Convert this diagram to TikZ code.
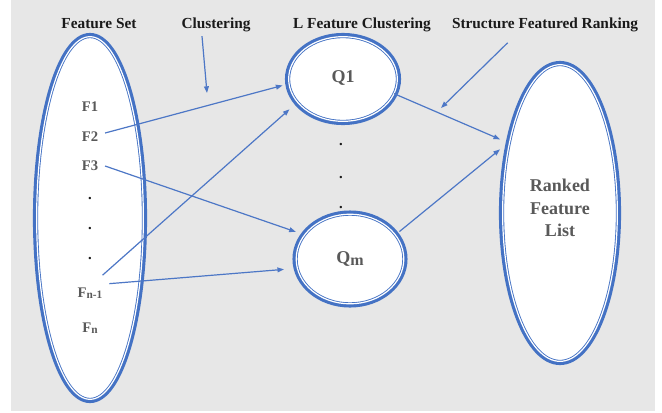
\documentclass[tikz,border=0pt]{standalone}
\usepackage{fontspec}
\setmainfont{Liberation Serif}
\usetikzlibrary{arrows.meta,shapes.geometric}
\definecolor{ringblue}{HTML}{4472C4}
\definecolor{arrowblue}{HTML}{4D77C6}
\definecolor{paper}{HTML}{E7E7E7}
\definecolor{inktext}{HTML}{595959}
\definecolor{headtext}{HTML}{1A1A1A}

\begin{document}
\begin{tikzpicture}[
              x=0.75pt,
              y=-0.75pt,
              >={Triangle[length=5pt,width=3.6pt]},
              ring/.style={ellipse, inner sep=0pt, outer sep=0pt, draw=ringblue, line width=5.6pt,
                postaction={fill=white},
                postaction={draw=ringblue, line width=2.2pt},
                postaction={draw=white, line width=0.9pt},
                text=inktext, font=\fontsize{13.5}{17}\selectfont\bfseries},
              head/.style={anchor=base, text=headtext, font=\fontsize{11.5}{13}\selectfont\bfseries},
              item/.style={inner sep=5pt, text=inktext, font=\fontsize{11}{13}\selectfont\bfseries},
              dot/.style={inner sep=1pt, text=headtext, font=\fontsize{11}{13}\selectfont\bfseries},
              arrow/.style={->, line width=0.9pt, color=arrowblue}
            ]
            \useasboundingbox (0,0) rectangle (662,412);
            \fill[paper] (11,0) rectangle (655,411);

            \node[head] (fshead) at (99,28) {Feature Set};
            \node[head] (clus) at (216,28) {Clustering};
            \node[head] (lfc) at (362,28) {L Feature Clustering};
            \node[head] (sfr) at (545,28) {Structure Featured Ranking};

            \node[dot] (m1) at (341,145) {.};
            \node[dot] (m2) at (341,178) {.};
            \node[dot] (m3) at (341,208) {.};

            \node[ring, minimum width=80pt, minimum height=272pt] (fset) at (90,218) {};
            \node[ring, minimum width=81.5pt, minimum height=63.5pt] (q1) at (343,79) {\raisebox{3pt}{Q1}};
            \node[ring, minimum width=80.7pt, minimum height=67.2pt] (qm) at (350,259) {Q\raisebox{-1.5pt}{\fontsize{12}{12}\selectfont m}};
            \node[ring, minimum width=86pt, minimum height=222.5pt, align=center, text depth=7.5pt] (rk) at (560,213) {Ranked\\Feature\\List};

            \node[item] (f1) at (90,107) {F1};
            \node[item] (f2) at (90,137) {F2};
            \node[item] (f3) at (90,166) {F3};
            \node[dot] (d1) at (90,199) {.};
            \node[dot] (d2) at (90,229) {.};
            \node[dot] (d3) at (90,259) {.};
            \node[item] (fn1) at (90,293) {F\raisebox{-1.2pt}{\fontsize{8.5}{9}\selectfont n-1}};
            \node[item] (fn) at (90,328) {F\raisebox{-1.2pt}{\fontsize{8.5}{9}\selectfont n}};

            \coordinate (clustip) at (207,93);
            \coordinate (sfrtip) at (441,108);

            \draw[arrow] ([xshift=-10.5pt]clus.south) -- (clustip);
            \draw[arrow] ([xshift=-28pt,yshift=-5pt]sfr.south) -- (sfrtip);

            \draw[arrow, shorten >=5pt] ([yshift=3pt]f2.east) -- (q1.185);
            \draw[arrow, shorten >=8pt] ([xshift=-5pt,yshift=4pt]fn1.north east) -- (q1.207);
            \draw[arrow, shorten >=7pt] (f3.east) -- (qm.152);
            \draw[arrow, shorten >=10pt] ([yshift=7pt]fn1.east) -- (qm.190);

            \draw[arrow, shorten >=7.5pt] (q1.344) -- (rk.126);
            \draw[arrow, shorten <=4pt, shorten >=9.5pt] (qm.28) -- (rk.125);
            \end{tikzpicture}
\end{document}
